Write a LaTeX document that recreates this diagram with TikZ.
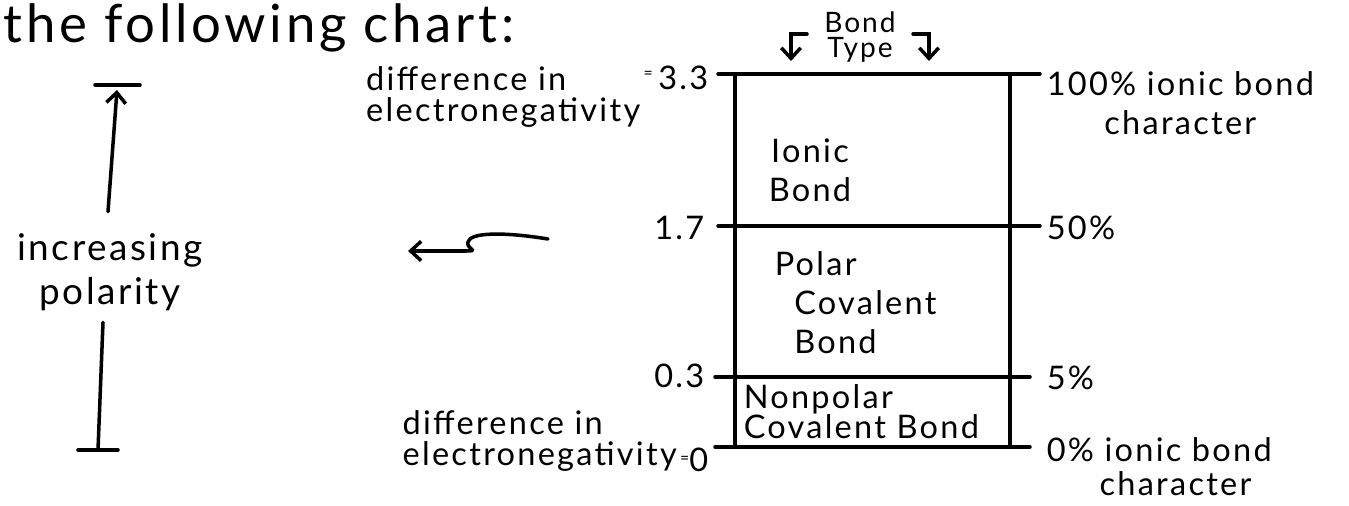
\documentclass[tikz,border=0pt]{standalone}
\usepackage{fontspec}
\setmainfont{Lato}[LetterSpace=7]
\usetikzlibrary{arrows.meta,positioning}

\begin{document}
\begin{tikzpicture}[x=0.02cm, y=-0.02cm,
  every path/.style={line width=2pt, line cap=round},
  lbl/.style={inner sep=0pt, font=\fontsize{18.5}{22}\selectfont},
  small/.style={inner sep=0pt, font=\fontsize{16}{14.5}\selectfont},
  big/.style={inner sep=0pt, font=\fontsize{30}{32}\selectfont},
  tip/.style={-{Straight Barb[length=6pt, width=11pt]}}]
\useasboundingbox (0,0) rectangle (1349,506);

% Title
\node[big, anchor=base west] (title) at (2,43) {the following chart:};

% Box
\coordinate (tl) at (735,74);
\coordinate (br) at (1010,447);
\draw (tl) -- (tl |- br);
\draw (br) -- (br |- tl);
\draw (718,74) -- (1040,74);
\draw (718,226) -- (1040,226);
\draw (715,377) -- (1030,377);
\draw (715,447) -- (1030,447);

% Bond type
\node[small, align=center] (btype) at (860,37) {Bond\\Type};
\coordinate (bl1) at (807,34);
\coordinate (bl2) at (791,34);
\coordinate (bl3) at (791,61);
\coordinate (br1) at (913,34);
\coordinate (br2) at (929,34);
\coordinate (br3) at (929,61);
\draw[tip] (bl1) -- (bl2) -- (bl3);
\draw[tip] (br1) -- (br2) -- (br3);

% Regions
\node[lbl, align=center] (ionic) at (810,170) {Ionic\\Bond};
\node[lbl, align=left, anchor=north west] (polar) at (773,250) {Polar\\\hspace{0.6em}Covalent\\\hspace{0.6em}Bond};
\node[lbl, align=left, anchor=north west] (nonpolar) at (742,383) {Nonpolar\\[-5pt]Covalent Bond};

% Left scale
\node[lbl, anchor=east] (v33) at (710,78) {\raisebox{0.7ex}{\fontsize{9}{9}\selectfont =}\,3.3};
\node[lbl, anchor=east] (v17) at (706,228) {1.7};
\node[lbl, anchor=east] (v03) at (706,376) {0.3};
\node[lbl, anchor=east] (v0) at (710,460) {\raisebox{0.5ex}{\fontsize{9}{9}\selectfont =}0};
\node[lbl, align=left, anchor=north east] (diff1) at (v33.north west) {difference in\\[-4pt]electronegativity};
\node[lbl, align=left, anchor=south east] (diff0) at (v0.south west) {difference in\\[-4pt]electronegativity};

% Right scale
\node[lbl, align=center, anchor=north west] (p100) at (1045,70) {100\% ionic bond\\character};
\node[lbl, anchor=west] (p50) at (1045,228) {50\%};
\node[lbl, anchor=west] (p5) at (1045,378) {5\%};
\node[lbl, align=center, anchor=north west] (p0) at (1045,436) {0\% ionic bond\\[-3pt]\hspace{1em}character};

% Squiggle
\coordinate (sq1) at (548,239);
\coordinate (sq2) at (408,251);
\draw[tip] (sq1) .. controls (505,232) and (470,232) .. (468,242)
  .. controls (466,249) and (480,251) .. (466,251) -- (sq2);

% Polarity
\node[lbl, font=\fontsize{21}{25}\selectfont, align=center] (pol) at (110,272) {increasing\\polarity};
\coordinate (ptop) at (117,90);
\coordinate (pbot) at (98,450);
\draw[tip] (pol.north) ++(-2,-20) coordinate (pu) (pu) -- (ptop);
\draw (95,85) -- (140,85);
\draw (pol.south) ++(-7,10) coordinate (pd) (pd) -- (pbot);
\draw (78,450) -- (118,450);
\end{tikzpicture}
\end{document}
